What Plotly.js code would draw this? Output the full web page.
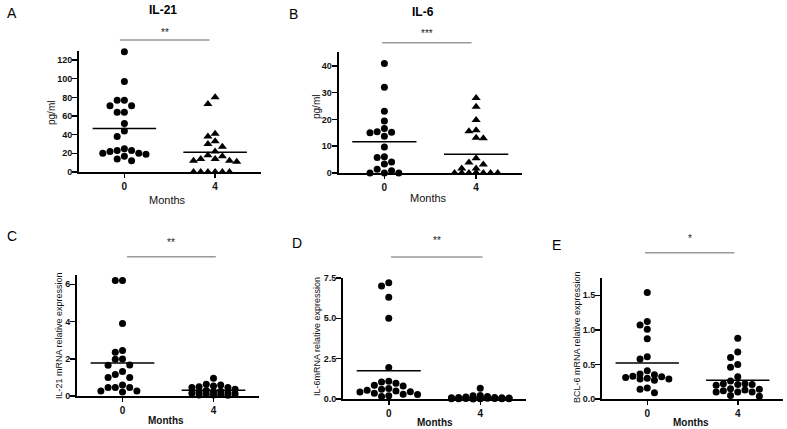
<!DOCTYPE html>
<html>
<head>
<meta charset="utf-8">
<script src="https://cdn.plot.ly/plotly-3.0.1.min.js"></script>
<style>html,body{margin:0;padding:0;background:#fff;}#chart{width:787px;height:429px;}</style>
</head>
<body>
<div id="chart"></div>
<script>
// ---------- DATA ----------
const months = [0, 4];
const monthLabels = ["0", "4"];

// A: IL-21 (pg/ml)
const il21_m0 = [129, 97, 77, 77, 71, 71, 64, 64, 52, 44, 38, 25, 23, 23, 22, 20, 20, 19, 17, 14, 12];
const il21_m4 = [80, 73, 41, 38, 33, 30, 27, 22, 18, 17, 14, 14, 12, 11, 12, 0, 0, 0, 0, 0, 0];

// B: IL-6 (pg/ml)
const il6_m0 = [40.9, 32, 23.1, 19.4, 16.6, 15.2, 15, 15.4, 13.7, 9.7, 6.1, 5.8, 4.1, 3.4, 1.4, 0.8, 0, 0, 0];
const il6_m4 = [28, 24.7, 19.8, 15.6, 16, 13.2, 13, 5.5, 3.9, 3.2, 1.7, 1.7, 0, 0, 0, 0, 0, 0, 0, 0, 0];

// C: IL-21 mRNA relative expression
const il21mrna_m0 = [6.2, 6.2, 3.9, 2.45, 2.35, 1.99, 1.97, 1.67, 1.65, 1.31, 1.16, 1.0, 1.0, 0.59, 0.45, 0.45, 0.45, 0.27, 0.27, 0.21];
const il21mrna_m4 = [0.95, 0.63, 0.59, 0.54, 0.5, 0.45, 0.45, 0.36, 0.3, 0.25, 0.22, 0.2, 0.18, 0.15, 0.12, 0.1, 0.08, 0.06, 0.05, 0.04];

// D: IL-6 mRNA relative expression
const il6mrna_m0 = [7.2, 7.0, 6.3, 5.0, 1.95, 1.1, 1.05, 0.97, 0.85, 0.8, 0.65, 0.6, 0.55, 0.5, 0.45, 0.43, 0.35, 0.3, 0.28, 0.2, 0.15];
const il6mrna_m4 = [0.66, 0.22, 0.2, 0.15, 0.12, 0.1, 0.1, 0.08, 0.07, 0.06, 0.05, 0.05, 0.04, 0.03, 0.03, 0.02, 0.02, 0.01, 0.01, 0.01, 0.0];

// E: BCL-6 mRNA relative expression
const bcl6_m0 = [1.54, 1.12, 1.07, 1.01, 0.87, 0.61, 0.58, 0.41, 0.36, 0.35, 0.33, 0.32, 0.31, 0.29, 0.29, 0.27, 0.16, 0.14, 0.09, 0.3];
const bcl6_m4 = [0.88, 0.68, 0.6, 0.5, 0.46, 0.32, 0.26, 0.22, 0.21, 0.2, 0.21, 0.22, 0.14, 0.13, 0.12, 0.1, 0.1, 0.1, 0.05, 0.04, 0.15];

const panelLetters = ["A", "B", "C", "D", "E"];
const panelTitles = ["IL-21", "IL-6", "", "", ""];
const yTitles = ["pg/ml", "pg/ml", "IL-21 mRNA relative expression", "IL-6mRNA relative expression", "BCL-6 mRNA relative expression"];
const stars = ["**", "***", "**", "**", "*"];

// ---------- LAYOUT CONFIG ----------
const W = 787, H = 429;
const FONT = "Liberation Sans, Arial, sans-serif";
const panels = [
  {data: [il21_m0, il21_m4], xpx: [79, 260.5], ypx: [50.7, 172], yr: [0, 130], tv: [0,20,40,60,80,100,120], fmt: "", tri: true, cols: 3,
   letter: [12, 13], title: [163, 10], ytl: [51, 113], months: [167, 200], mbold: false, sig: [40, 32, -0.2, 3.75]},
  {data: [il6_m0, il6_m4], xpx: [338.5, 522], ypx: [51.7, 173], yr: [0, 45.3], tv: [0,10,20,30,40], fmt: "", tri: true, cols: 3,
   letter: [293, 14], title: [423, 12], ytl: [316, 107], months: [428, 198], mbold: false, sig: [42.7, 34, -0.1, 3.8]},
  {data: [il21mrna_m0, il21mrna_m4], xpx: [77, 259], ypx: [275, 396], yr: [0, 6.5], tv: [0,2,4,6], fmt: "", tri: false, cols: 3,
   letter: [12, 236], title: null, ytl: [59, 336], months: [166, 420], mbold: true, sig: [256.7, 242, 0.2, 4.1]},
  {data: [il6mrna_m0, il6mrna_m4], xpx: [343, 526], ypx: [278, 399], yr: [0, 7.5], tv: [0,2.5,5,7.5], fmt: ".1f", tri: false, cols: 4,
   letter: [297, 243], title: null, ytl: [317, 337], months: [435, 422], mbold: true, sig: [257, 241, 0.1, 4.1]},
  {data: [bcl6_m0, bcl6_m4], xpx: [602, 783], ypx: [278, 399], yr: [0, 1.75], tv: [0,0.5,1,1.5], fmt: ".1f", tri: false, cols: 3,
   letter: [556, 245], title: null, ytl: [577, 337], months: [691, 422], mbold: true, sig: [252.7, 238, -0.1, 3.85]}
];
const XR = [-2, 6];
const DOT = 7.2;

// beeswarm layout (pixel space), limited to +/- maxCols columns
function swarm(vals, c, sx, sy, d, maxCols) {
  const idx = vals.map((v, i) => i).sort((a, b) => vals[b] - vals[a]);
  const placed = [];
  const xs = new Array(vals.length);
  for (const i of idx) {
    const py = vals[i] * sy;
    let best = 0, bestScore = -1, chosen = null;
    for (let k = 0; k <= 2 * maxCols; k++) {
      const step = Math.ceil(k / 2);
      const off = (k === 0 ? 0 : (k % 2 ? -step : step)) * d;
      const md = placed.reduce((m, p) => Math.min(m, Math.hypot(p[0] - off, p[1] - py)), Infinity);
      if (md >= d * 0.97) { chosen = off; break; }
      if (md > bestScore) { bestScore = md; best = off; }
    }
    if (chosen === null) chosen = best;
    placed.push([chosen, py]);
    xs[i] = c + chosen / sx;
  }
  return xs;
}
const mean = a => a.reduce((s, v) => s + v, 0) / a.length;

const traces = [];
const layout = {
  width: W, height: H, margin: {l: 0, r: 0, t: 0, b: 0},
  paper_bgcolor: "#fff", plot_bgcolor: "rgba(0,0,0,0)",
  showlegend: false, font: {family: FONT, color: "#000"},
  annotations: [], shapes: []
};
const px2x = p => p / W;
const py2y = p => 1 - p / H;

panels.forEach((P, k) => {
  const n = k + 1;
  const xa = n === 1 ? "xaxis" : "xaxis" + n;
  const ya = n === 1 ? "yaxis" : "yaxis" + n;
  const xr = n === 1 ? "x" : "x" + n;
  const yr = n === 1 ? "y" : "y" + n;
  const sx = (P.xpx[1] - P.xpx[0]) / (XR[1] - XR[0]);
  const sy = (P.ypx[1] - P.ypx[0]) / (P.yr[1] - P.yr[0]);
  layout[xa] = {
    domain: [px2x(P.xpx[0]), px2x(P.xpx[1])], range: XR, anchor: yr,
    showgrid: false, zeroline: false, showline: true, linecolor: "#000", linewidth: 2,
    tickmode: "array", tickvals: months, ticktext: monthLabels,
    ticks: "outside", ticklen: 4, tickwidth: 1.5, tickcolor: "#000",
    tickfont: {family: FONT, size: 10, color: "#111", weight: "bold"}, fixedrange: true
  };
  layout[ya] = {
    domain: [py2y(P.ypx[1]), py2y(P.ypx[0])], range: P.yr, anchor: xr,
    showgrid: false, zeroline: false, showline: true, linecolor: "#000", linewidth: 2,
    tickmode: "array", tickvals: P.tv, ticktext: P.tv.map(v => P.fmt ? v.toFixed(1) : String(v)),
    ticks: "outside", ticklen: 5, tickwidth: 1.5, tickcolor: "#000", ticklabelstandoff: -2,
    tickfont: {family: FONT, size: 9, color: "#111", weight: "bold"}, fixedrange: true
  };
  P.data.forEach((vals, g) => {
    const c = months[g];
    const tri = P.tri && g === 1;
    traces.push({
      type: "scatter", mode: "markers", xaxis: xr, yaxis: yr, cliponaxis: false,
      x: swarm(vals, c, sx, sy, DOT, P.cols), y: vals,
      marker: {symbol: tri ? "triangle-up" : "circle", size: tri ? 8 : 7, color: "#000", line: {width: 0}},
      hoverinfo: "y"
    });
    const m = mean(vals);
    traces.push({
      type: "scatter", mode: "lines", xaxis: xr, yaxis: yr, cliponaxis: false,
      x: [c - 1.4, c + 1.4], y: [m, m], line: {color: "#000", width: 1.5}, hoverinfo: "skip"
    });
  });
  // significance bar
  layout.shapes.push({type: "line", xref: xr, yref: "paper",
    x0: P.sig[2], x1: P.sig[3], y0: py2y(P.sig[0]), y1: py2y(P.sig[0]),
    line: {color: "#9a9a9a", width: 1.5}});
  layout.annotations.push({xref: xr, yref: "paper", x: (P.sig[2] + P.sig[3]) / 2, y: py2y(P.sig[1]),
    text: stars[k], showarrow: false, xanchor: "center", yanchor: "middle",
    font: {family: FONT, size: 10, color: "#222"}});
  // panel letter
  layout.annotations.push({xref: "paper", yref: "paper", x: px2x(P.letter[0]), y: py2y(P.letter[1]),
    text: panelLetters[k], showarrow: false, xanchor: "center", yanchor: "middle",
    font: {family: FONT, size: 14, color: "#000"}});
  if (P.title) {
    layout.annotations.push({xref: "paper", yref: "paper", x: px2x(P.title[0]), y: py2y(P.title[1]),
      text: "<b>" + panelTitles[k] + "</b>", showarrow: false, xanchor: "center", yanchor: "middle",
      font: {family: FONT, size: 12, color: "#000"}});
  }
  layout.annotations.push({xref: "paper", yref: "paper", x: px2x(P.ytl[0]), y: py2y(P.ytl[1]),
    text: yTitles[k], showarrow: false, xanchor: "center", yanchor: "middle", textangle: -90,
    font: {family: FONT, size: P.tri ? 10 : 9, color: "#111"}});
  layout.annotations.push({xref: "paper", yref: "paper", x: px2x(P.months[0]), y: py2y(P.months[1]),
    text: P.mbold ? "<b>Months</b>" : "Months", showarrow: false, xanchor: "center", yanchor: "middle",
    font: {family: FONT, size: P.mbold ? 10 : 11, color: "#111"}});
});

Plotly.newPlot("chart", traces, layout, {displayModeBar: false, staticPlot: true});
</script>
</body>
</html>
